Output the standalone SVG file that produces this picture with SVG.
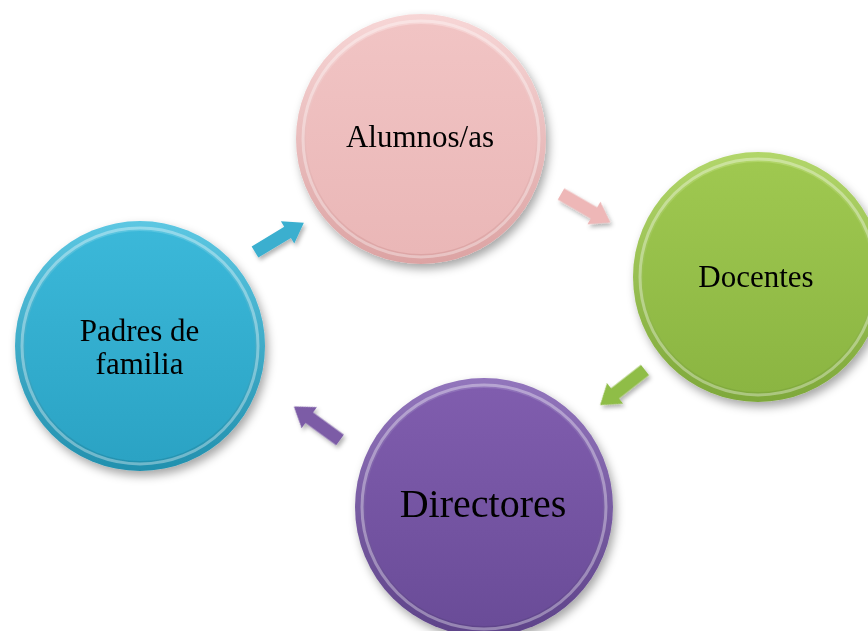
<svg xmlns="http://www.w3.org/2000/svg" xmlns:xlink="http://www.w3.org/1999/xlink" width="868" height="631" viewBox="0 0 868 631">
<defs>
<filter id="sh" x="-20%" y="-20%" width="140%" height="140%">
<feDropShadow dx="3" dy="5" stdDeviation="5" flood-color="#000" flood-opacity="0.35"/>
</filter>
<filter id="ash" x="-30%" y="-30%" width="160%" height="160%">
<feDropShadow dx="2" dy="3" stdDeviation="2" flood-color="#000" flood-opacity="0.3"/>
</filter>
<linearGradient id="pinkRim" x1="0" y1="0" x2="0" y2="1"><stop offset="0" stop-color="#F7D6D6"/><stop offset="1" stop-color="#DCA3A3"/></linearGradient>
<linearGradient id="pinkIn" x1="0" y1="0" x2="0" y2="1"><stop offset="0" stop-color="#F1C4C4"/><stop offset="1" stop-color="#EAB7B7"/></linearGradient>
<linearGradient id="greenRim" x1="0" y1="0" x2="0" y2="1"><stop offset="0" stop-color="#B2D66A"/><stop offset="1" stop-color="#7EA83A"/></linearGradient>
<linearGradient id="greenIn" x1="0" y1="0" x2="0" y2="1"><stop offset="0" stop-color="#9FC850"/><stop offset="1" stop-color="#8BB542"/></linearGradient>
<linearGradient id="purpleRim" x1="0" y1="0" x2="0" y2="1"><stop offset="0" stop-color="#9275BC"/><stop offset="1" stop-color="#5E4389"/></linearGradient>
<linearGradient id="purpleIn" x1="0" y1="0" x2="0" y2="1"><stop offset="0" stop-color="#805DAE"/><stop offset="1" stop-color="#6A4C98"/></linearGradient>
<linearGradient id="blueRim" x1="0" y1="0" x2="0" y2="1"><stop offset="0" stop-color="#5CC7E2"/><stop offset="1" stop-color="#2290AE"/></linearGradient>
<linearGradient id="blueIn" x1="0" y1="0" x2="0" y2="1"><stop offset="0" stop-color="#3BB8D9"/><stop offset="1" stop-color="#2BA3C4"/></linearGradient>
<path id="arrow" d="M0,-6.5 L38,-6.5 L38,-13 L57,0 L38,13 L38,6.5 L0,6.5 Z"/>
</defs>
<style>
.lbl{font-family:"Liberation Serif","Times New Roman",serif;fill:#000;text-anchor:middle;font-size:31px}
.big{font-size:40px}
.hl{fill:none;stroke:#fff;stroke-opacity:0.35;stroke-width:3}
</style>
<rect width="868" height="631" fill="#fff"/>
<g id="connectors" filter="url(#ash)">
<use xlink:href="#arrow" fill="#3AAFCF" transform="translate(255,252) rotate(-31)"/>
<use xlink:href="#arrow" fill="#EEB7B7" transform="translate(561,194) rotate(30)"/>
<use xlink:href="#arrow" fill="#8FBD47" transform="translate(645,370) rotate(142)"/>
<use xlink:href="#arrow" fill="#7B5BA6" transform="translate(340,440) rotate(-144)"/>
</g>
<g id="alumnos">
<circle cx="421" cy="139" r="125" fill="url(#pinkRim)" filter="url(#sh)"/>
<circle cx="421" cy="139" r="115" fill="url(#pinkIn)"/>
<circle cx="421" cy="139" r="118" class="hl"/>
<text class="lbl" x="420" y="147">Alumnos/as</text>
</g>
<g id="docentes">
<circle cx="758" cy="277" r="125" fill="url(#greenRim)" filter="url(#sh)"/>
<circle cx="758" cy="277" r="115" fill="url(#greenIn)"/>
<circle cx="758" cy="277" r="118" class="hl"/>
<text class="lbl" x="756" y="287">Docentes</text>
</g>
<g id="directores">
<circle cx="484" cy="507" r="129" fill="url(#purpleRim)" filter="url(#sh)"/>
<circle cx="484" cy="507" r="119" fill="url(#purpleIn)"/>
<circle cx="484" cy="507" r="122" class="hl"/>
<text class="lbl big" x="483" y="517">Directores</text>
</g>
<g id="padres">
<circle cx="140" cy="346" r="125" fill="url(#blueRim)" filter="url(#sh)"/>
<circle cx="140" cy="346" r="115" fill="url(#blueIn)"/>
<circle cx="140" cy="346" r="118" class="hl"/>
<text class="lbl" x="139.5" y="341">Padres de</text>
<text class="lbl" x="139.5" y="374">familia</text>
</g>
</svg>
